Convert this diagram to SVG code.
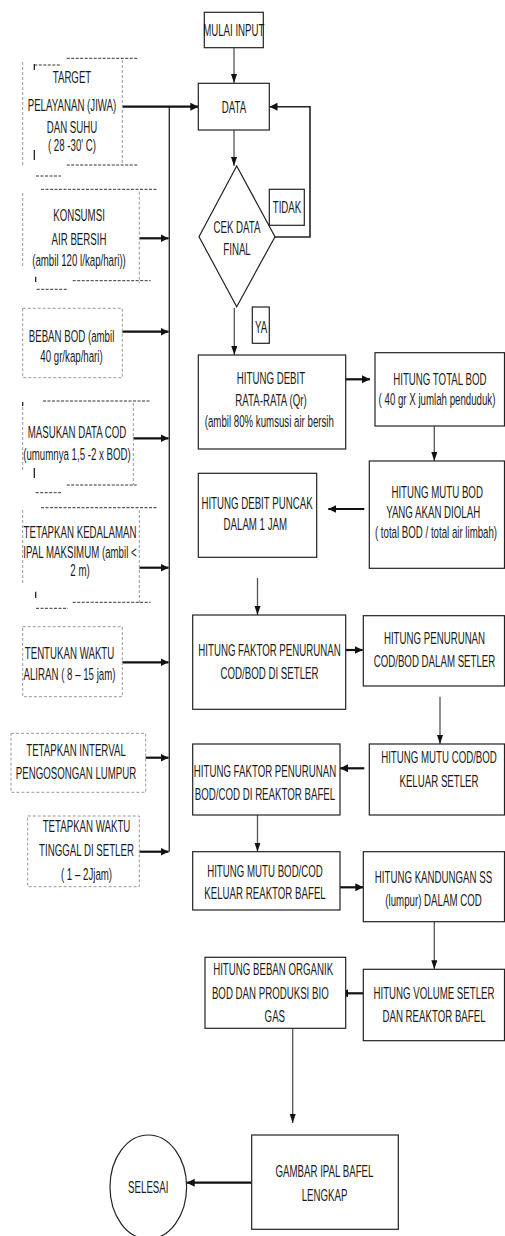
<svg xmlns="http://www.w3.org/2000/svg" width="505" height="1236" viewBox="0 0 505 1236">
<style>
.t{font-family:"Liberation Sans",Arial,sans-serif;font-size:17px;text-anchor:middle;fill:#1a1a1a}
.b{fill:#fff;stroke:#222;stroke-width:1.2}
.dg{fill:none;stroke:#999;stroke-width:1;stroke-dasharray:3 2}
.dk{fill:none;stroke:#333;stroke-width:1;stroke-dasharray:3 1.5}
.tk{stroke:#111;stroke-width:1.2}
.thin{fill:none;stroke:#555;stroke-width:1.3;marker-end:url(#an)}
.thick{fill:none;stroke:#111;stroke-width:2.2;marker-end:url(#aw)}
.bus{fill:none;stroke:#333;stroke-width:1.4}
</style>
<defs>
<marker id="an" markerUnits="userSpaceOnUse" markerWidth="10" markerHeight="8" refX="9" refY="3" orient="auto"><path d="M0,0 L9,3 L0,6 z" fill="#111"/></marker>
<marker id="aw" markerUnits="userSpaceOnUse" markerWidth="10" markerHeight="10" refX="8" refY="4" orient="auto"><path d="M0,0 L8,4 L0,8 z" fill="#111"/></marker>
</defs>
<rect width="505" height="1236" fill="#fff"/>

<g id="connectors">
<line class="bus" x1="169.3" y1="106.7" x2="169.3" y2="851.7"/>
<line class="thick" x1="122.3" y1="106.7" x2="198.3" y2="106.7"/>
<line class="thick" x1="139.3" y1="238.3" x2="168.5" y2="238.3"/>
<line class="thick" x1="122.3" y1="331.7" x2="168.5" y2="331.7"/>
<line class="thick" x1="133.3" y1="438.3" x2="168.5" y2="438.3"/>
<line class="thick" x1="139.3" y1="567.7" x2="168.5" y2="567.7"/>
<line class="thick" x1="122.3" y1="662.3" x2="168.5" y2="662.3"/>
<line class="thick" x1="145.7" y1="757.7" x2="168.5" y2="757.7"/>
<line class="thick" x1="139.3" y1="851.7" x2="168.5" y2="851.7"/>
<line class="thin" x1="234" y1="48" x2="234" y2="83"/>
<line class="thin" x1="234" y1="130" x2="234" y2="166"/>
<polyline points="275,237 310,237 310,106.7 269.5,106.7" fill="none" stroke="#222" stroke-width="1.6" marker-end="url(#aw)"/>
<line class="thin" x1="234.3" y1="308" x2="234.3" y2="355"/>
<line class="thick" x1="340" y1="379.3" x2="370" y2="379.3"/>
<line class="thin" x1="434.3" y1="426" x2="434.3" y2="461"/>
<line class="thick" x1="364.3" y1="509" x2="328.3" y2="509"/>
<line class="thin" x1="257.5" y1="578" x2="257.5" y2="615"/>
<line class="thick" x1="345.7" y1="650" x2="362.7" y2="650"/>
<line class="thin" x1="440" y1="696.7" x2="440" y2="744"/>
<line class="thick" x1="364.3" y1="768.3" x2="340" y2="768.3"/>
<line class="thin" x1="257.5" y1="815" x2="257.5" y2="851.7"/>
<line class="thick" x1="340" y1="887.3" x2="363.3" y2="887.3"/>
<line class="thin" x1="434.3" y1="921.7" x2="434.3" y2="969.3"/>
<line class="thick" x1="363.3" y1="993.3" x2="340" y2="993.3"/>
<line class="thin" x1="292.7" y1="1028.3" x2="292.7" y2="1123"/>
<line class="thick" x1="251.7" y1="1182.7" x2="186.7" y2="1182.7"/>
</g>

<g id="n-target">
<line class="dk" x1="66.7" y1="58.3" x2="137.7" y2="58.3"/>
<line class="dg" x1="122.3" y1="60" x2="122.3" y2="165"/>
<line class="dg" x1="22.7" y1="62" x2="22.7" y2="167"/>
<line class="tk" x1="34.3" y1="64" x2="34.3" y2="70"/>
<line class="dk" x1="34.3" y1="65" x2="61.7" y2="65"/>
<line class="tk" x1="34.3" y1="150" x2="34.3" y2="160"/>
<line class="dk" x1="66.7" y1="165" x2="137.7" y2="165"/>
<line class="dk" x1="36" y1="176" x2="61" y2="176"/>
<text class="t" transform="matrix(0.57 0 0 1 72 0)"><tspan x="0" y="83.5">TARGET</tspan><tspan x="0" y="111.5">PELAYANAN (JIWA)</tspan><tspan x="0" y="133">DAN SUHU</tspan><tspan x="0" y="151">( 28 -30' C)</tspan></text>
</g>

<g id="n-konsumsi">
<line class="dk" x1="41" y1="189.3" x2="157.7" y2="189.3"/>
<line class="dg" x1="22.7" y1="193" x2="22.7" y2="268"/>
<line class="dg" x1="139.3" y1="191.7" x2="139.3" y2="283.3"/>
<line class="dk" x1="72.7" y1="280.7" x2="150.7" y2="280.7"/>
<line class="tk" x1="35.7" y1="276.7" x2="35.7" y2="282"/>
<line class="dk" x1="36.7" y1="289.3" x2="68.3" y2="289.3"/>
<text class="t" transform="matrix(0.57 0 0 1 79 0)"><tspan x="0" y="220.7">KONSUMSI</tspan><tspan x="0" y="245">AIR BERSIH</tspan><tspan x="0" y="266.5">(ambil 120 l/kap/hari))</tspan></text>
</g>

<g id="n-beban">
<rect class="dg" x="22.7" y="308.3" width="99.6" height="69.4"/>
<text class="t" transform="matrix(0.57 0 0 1 71.5 0)"><tspan x="0" y="342">BEBAN BOD (ambil</tspan><tspan x="0" y="362">40 gr/kap/hari)</tspan></text>
</g>

<g id="n-cod">
<line class="dk" x1="43" y1="401" x2="150" y2="401"/>
<line class="tk" x1="22.7" y1="402" x2="22.7" y2="406"/>
<line class="dg" x1="22.7" y1="407" x2="22.7" y2="470"/>
<line class="dg" x1="133.3" y1="403" x2="133.3" y2="485"/>
<line class="dk" x1="66.7" y1="485" x2="136.7" y2="485"/>
<line class="tk" x1="34.3" y1="468" x2="34.3" y2="478"/>
<line class="dk" x1="35.7" y1="492.7" x2="61" y2="492.7"/>
<text class="t" transform="matrix(0.57 0 0 1 77 0)"><tspan x="0" y="437.7">MASUKAN DATA COD</tspan><tspan x="0" y="460">(umumnya 1,5 -2 x BOD)</tspan></text>
</g>

<g id="n-kedalaman">
<line class="dk" x1="41" y1="507.7" x2="157.7" y2="507.7"/>
<line class="dg" x1="22.7" y1="510" x2="22.7" y2="585"/>
<line class="dg" x1="139.3" y1="510" x2="139.3" y2="603.3"/>
<line class="dk" x1="72.7" y1="602.3" x2="150.7" y2="602.3"/>
<line class="tk" x1="35.7" y1="591.7" x2="35.7" y2="598"/>
<line class="dk" x1="36" y1="608.3" x2="68" y2="608.3"/>
<text class="t" transform="matrix(0.57 0 0 1 80 0)"><tspan x="0" y="537.7">TETAPKAN KEDALAMAN</tspan><tspan x="0" y="558.3">IPAL MAKSIMUM (ambil &lt;</tspan><tspan x="0" y="576">2 m)</tspan></text>
</g>

<g id="n-waktu-aliran">
<rect class="dg" x="22.7" y="626.7" width="99.6" height="70"/>
<text class="t" transform="matrix(0.57 0 0 1 69.5 0)"><tspan x="0" y="659">TENTUKAN WAKTU</tspan><tspan x="0" y="680">ALIRAN ( 8 – 15 jam)</tspan></text>
</g>

<g id="n-interval">
<rect class="dg" x="11" y="733.3" width="134.7" height="59"/>
<text class="t" transform="matrix(0.57 0 0 1 76 0)"><tspan x="0" y="756">TETAPKAN INTERVAL</tspan><tspan x="0" y="779.3">PENGOSONGAN LUMPUR</tspan></text>
</g>

<g id="n-tinggal">
<rect class="dg" x="27.7" y="816" width="111.6" height="70.7"/>
<text class="t" transform="matrix(0.57 0 0 1 86.5 0)"><tspan x="0" y="832">TETAPKAN WAKTU</tspan><tspan x="0" y="856">TINGGAL DI SETLER</tspan><tspan x="0" y="880">( 1 – 2Jjam)</tspan></text>
</g>

<g id="n-mulai">
<rect class="b" x="204.3" y="12.3" width="59" height="35.4"/>
<text class="t" transform="matrix(0.57 0 0 1 233.8 0)"><tspan x="0" y="36">MULAI INPUT</tspan></text>
</g>

<g id="n-data">
<rect class="b" x="198.3" y="83.3" width="71" height="46.7"/>
<text class="t" transform="matrix(0.57 0 0 1 234 0)"><tspan x="0" y="112.7">DATA</tspan></text>
</g>

<g id="n-cek">
<polygon class="b" points="236.7,166 275,236.7 236.7,306.7 199,236.7"/>
<text class="t" transform="matrix(0.57 0 0 1 237 0)"><tspan x="0" y="232.7">CEK DATA</tspan><tspan x="0" y="255.3">FINAL</tspan></text>
</g>

<g id="n-tidak">
<rect class="b" x="269.3" y="189.3" width="35" height="36"/>
<text class="t" transform="matrix(0.57 0 0 1 287 0)"><tspan x="0" y="213.3">TIDAK</tspan></text>
</g>

<g id="n-ya">
<rect class="b" x="252.3" y="307" width="17" height="36.3"/>
<text class="t" transform="matrix(0.57 0 0 1 261 0)"><tspan x="0" y="333">YA</tspan></text>
</g>

<g id="n-debit">
<rect class="b" x="198.3" y="355" width="147.4" height="94"/>
<text class="t" transform="matrix(0.57 0 0 1 271 0)"><tspan x="0" y="384.3">HITUNG DEBIT</tspan><tspan x="0" y="406">RATA-RATA (Qr)</tspan><tspan x="-3" y="426.7">(ambil 80% kumsusi air bersih</tspan></text>
</g>

<g id="n-totalbod">
<rect class="b" x="375" y="352.7" width="129.5" height="73.3"/>
<text class="t" transform="matrix(0.57 0 0 1 437 0)"><tspan x="5" y="385">HITUNG TOTAL BOD</tspan><tspan x="0" y="405">( 40 gr X jumlah penduduk)</tspan></text>
</g>

<g id="n-mutubod">
<rect class="b" x="369.3" y="461" width="135.2" height="107.3"/>
<text class="t" transform="matrix(0.57 0 0 1 436 0)"><tspan x="2" y="497.7">HITUNG MUTU BOD</tspan><tspan x="-5" y="518.3">YANG AKAN DIOLAH</tspan><tspan x="0" y="538.3">( total BOD / total air limbah)</tspan></text>
</g>

<g id="n-puncak">
<rect class="b" x="198.3" y="473.3" width="118.4" height="84"/>
<text class="t" transform="matrix(0.57 0 0 1 257 0)"><tspan x="0" y="509.3">HITUNG DEBIT PUNCAK</tspan><tspan x="-3" y="530">DALAM 1 JAM</tspan></text>
</g>

<g id="n-faktor-setler">
<rect class="b" x="192.7" y="615" width="153" height="94.3"/>
<text class="t" transform="matrix(0.57 0 0 1 269.5 0)"><tspan x="0" y="656">HITUNG FAKTOR PENURUNAN</tspan><tspan x="0" y="678.7">COD/BOD DI SETLER</tspan></text>
</g>

<g id="n-penurunan">
<rect class="b" x="363.3" y="615.7" width="141.2" height="70.3"/>
<text class="t" transform="matrix(0.57 0 0 1 434.5 0)"><tspan x="0" y="644.3">HITUNG PENURUNAN</tspan><tspan x="0" y="666.7">COD/BOD DALAM SETLER</tspan></text>
</g>

<g id="n-mutu-setler">
<rect class="b" x="369.3" y="744" width="135.2" height="71"/>
<text class="t" transform="matrix(0.57 0 0 1 439 0)"><tspan x="0" y="763.3">HITUNG MUTU COD/BOD</tspan><tspan x="0" y="786.7">KELUAR SETLER</tspan></text>
</g>

<g id="n-faktor-bafel">
<rect class="b" x="192.7" y="744" width="147.3" height="71"/>
<text class="t" transform="matrix(0.57 0 0 1 265 0)"><tspan x="0" y="776.7">HITUNG FAKTOR PENURUNAN</tspan><tspan x="0" y="800">BOD/COD DI REAKTOR BAFEL</tspan></text>
</g>

<g id="n-mutu-bafel">
<rect class="b" x="192.7" y="851.7" width="147.3" height="58.3"/>
<text class="t" transform="matrix(0.57 0 0 1 265 0)"><tspan x="0" y="876.7">HITUNG MUTU BOD/COD</tspan><tspan x="0" y="899.3">KELUAR REAKTOR BAFEL</tspan></text>
</g>

<g id="n-ss">
<rect class="b" x="363.3" y="851.7" width="141.2" height="70"/>
<text class="t" transform="matrix(0.57 0 0 1 433.5 0)"><tspan x="0" y="882.7">HITUNG KANDUNGAN SS</tspan><tspan x="0" y="906">(lumpur) DALAM COD</tspan></text>
</g>

<g id="n-volume">
<rect class="b" x="363.3" y="969.3" width="141.2" height="71.4"/>
<text class="t" transform="matrix(0.57 0 0 1 434 0)"><tspan x="0" y="999.3">HITUNG VOLUME SETLER</tspan><tspan x="0" y="1022.3">DAN REAKTOR BAFEL</tspan></text>
</g>

<g id="n-organik">
<rect class="b" x="205" y="957.3" width="140.7" height="71"/>
<text class="t" transform="matrix(0.57 0 0 1 272 0)"><tspan x="2" y="975">HITUNG BEBAN ORGANIK</tspan><tspan x="-3" y="999.3">BOD DAN PRODUKSI BIO</tspan><tspan x="5" y="1022.3">GAS</tspan></text>
</g>

<g id="n-gambar">
<rect class="b" x="251.7" y="1135" width="146.6" height="94.3"/>
<text class="t" transform="matrix(0.57 0 0 1 324.5 0)"><tspan x="0" y="1176.7">GAMBAR IPAL BAFEL</tspan><tspan x="0" y="1200.7">LENGKAP</tspan></text>
</g>

<g id="n-selesai">
<ellipse class="b" cx="148.3" cy="1187" rx="38.3" ry="52"/>
<text class="t" transform="matrix(0.57 0 0 1 148.3 0)"><tspan x="0" y="1193.3">SELESAI</tspan></text>
</g>
</svg>
